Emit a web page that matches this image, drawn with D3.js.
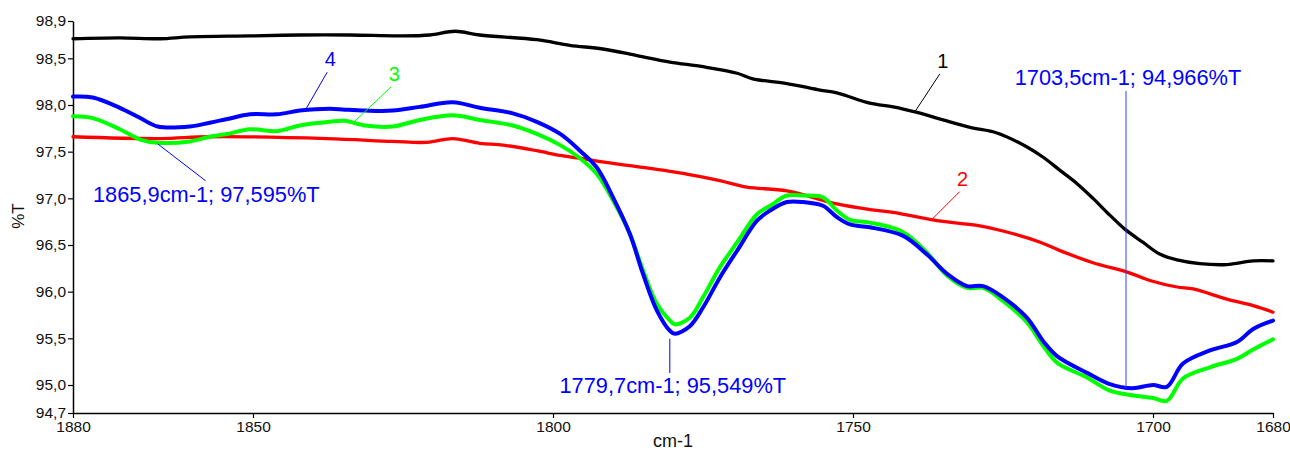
<!DOCTYPE html>
<html>
<head>
<meta charset="utf-8">
<script src="https://cdn.jsdelivr.net/npm/d3@7/dist/d3.min.js"></script>
<style>
  html, body { margin: 0; padding: 0; background: #fff; }
  svg { display: block; font-family: "Liberation Sans", Arial, sans-serif; }
</style>
</head>
<body>
<svg id="chart" width="1290" height="450"></svg>
<script>
// IR transmittance spectra, 1880–1680 cm-1

// Sample 1 (black)
const wn1 = [1880, 1872.2, 1865.5, 1860.5, 1850.5, 1842.2, 1833.8, 1825.5, 1820.5, 1816.3, 1812.2,
  1802.7, 1797.2, 1791.7, 1786, 1780.5, 1775, 1769.3, 1766.7, 1761, 1755.5, 1752.7, 1747.2,
  1743.3, 1739.3, 1735, 1730.5, 1726, 1721, 1718.3, 1715.5, 1712.7, 1710, 1707.2, 1704.7,
  1701.7, 1698.8, 1696, 1692.2, 1687.7, 1683.3, 1680];
const t1 = [98.71, 98.72, 98.71, 98.73, 98.74, 98.75, 98.75, 98.74, 98.75, 98.79, 98.75,
  98.70, 98.64, 98.60, 98.53, 98.46, 98.41, 98.34, 98.28, 98.23, 98.16, 98.13, 98.02,
  97.98, 97.92, 97.84, 97.76, 97.70, 97.55, 97.44, 97.30, 97.16, 97.00, 96.82, 96.67,
  96.53, 96.40, 96.34, 96.30, 96.29, 96.33, 96.33];

// Sample 2 (red)
const wn2 = [1880, 1865.5, 1857.2, 1837.7, 1826.7, 1821, 1816.7, 1812.2, 1808.3, 1802.7, 1798.8,
  1795.5, 1791.7, 1786, 1777.7, 1772.2, 1767.7, 1761, 1752.7, 1747.2, 1743.3, 1736, 1729.3,
  1725, 1718.8, 1715.5, 1710, 1704.3, 1700.5, 1696, 1693.3, 1687.7, 1683.3, 1680];
const t2 = [97.66, 97.64, 97.66, 97.64, 97.61, 97.60, 97.64, 97.59, 97.57, 97.51, 97.46,
  97.43, 97.39, 97.34, 97.26, 97.19, 97.12, 97.08, 96.94, 96.88, 96.85, 96.76, 96.71,
  96.65, 96.53, 96.44, 96.31, 96.21, 96.12, 96.05, 96.03, 95.92, 95.85, 95.78];

// Samples 3 (green) and 4 (blue) share one wavenumber grid
const wn34 = [1880, 1876.7, 1872.2, 1868.8, 1865.9, 1860.5, 1857.2, 1854.3, 1850.5, 1846, 1842.2,
  1837.2, 1834.7, 1831.3, 1826.7, 1822.2, 1816.7, 1812.2, 1806.7, 1802.7, 1798.8, 1795.5,
  1792.7, 1790, 1787.2, 1785, 1782.7, 1780.5, 1779.7, 1777.2, 1775, 1772.2, 1769.3, 1766,
  1763.8, 1761, 1758.3, 1755, 1752.7, 1750.5, 1747.2, 1741.7, 1737.7, 1734.3, 1731, 1728.3,
  1725, 1721, 1718.3, 1716, 1711, 1707.2, 1703.5, 1700, 1697.7, 1695, 1690.5, 1686, 1683.3, 1680];
const t3 = [97.88, 97.86, 97.74, 97.63, 97.595, 97.61, 97.66, 97.69, 97.74, 97.72, 97.78,
  97.82, 97.83, 97.78, 97.77, 97.84, 97.89, 97.84, 97.78, 97.69, 97.57, 97.43,
  97.26, 96.98, 96.62, 96.23, 95.87, 95.69, 95.65, 95.72, 95.94, 96.26, 96.53, 96.83,
  96.92, 97.03, 97.03, 97.01, 96.87, 96.77, 96.74, 96.64, 96.42, 96.17, 96.04, 96.04,
  95.90, 95.67, 95.42, 95.24, 95.08, 94.94, 94.89, 94.86, 94.83, 95.07, 95.19, 95.28, 95.38, 95.49];
const t4 = [98.09, 98.08, 97.97, 97.86, 97.77, 97.77, 97.81, 97.85, 97.90, 97.90, 97.94,
  97.96, 97.95, 97.94, 97.94, 97.98, 98.03, 97.97, 97.91, 97.82, 97.69, 97.51,
  97.33, 97.01, 96.62, 96.19, 95.80, 95.58, 95.549, 95.63, 95.83, 96.15, 96.44, 96.76,
  96.87, 96.96, 96.96, 96.92, 96.80, 96.72, 96.69, 96.60, 96.40, 96.19, 96.06, 96.06,
  95.94, 95.72, 95.47, 95.31, 95.13, 95.01, 94.966, 95.00, 94.98, 95.23, 95.37, 95.46, 95.60, 95.69];

// Axis ticks
const xTicks = [1880, 1850, 1800, 1750, 1700, 1680];
const yTicks = [94.7, 95.0, 95.5, 96.0, 96.5, 97.0, 97.5, 98.0, 98.5, 98.9];

// Curve numbers: [label, series index, wavenumber of leader end]
const curveLabels = [["1", 0, 1739.7], ["2", 1, 1736.9], ["3", 2, 1833.3], ["4", 3, 1841.3]];

// Peak readouts: [wavenumber, %T, series index]
const peaks = [[1865.9, 97.595, 2], [1779.7, 95.549, 3], [1703.5, 94.966, 3]];

const series = [
  { wn: wn1, t: t1, color: "#000000", width: 3.3 },
  { wn: wn2, t: t2, color: "#ff0000", width: 3.3 },
  { wn: wn34, t: t3, color: "#00ff00", width: 4 },
  { wn: wn34, t: t4, color: "#0000ff", width: 4 }
];

const svg = d3.select("#chart");
const x = d3.scaleLinear().domain([1880, 1680]).range([73, 1273]);
const y = d3.scaleLinear().domain([94.7, 98.9]).range([413, 21]);

const comma = v => d3.format(".1f")(v).replace(".", ",");

// Axes
const gx = svg.append("g").attr("transform", `translate(0,${y(94.7)})`)
  .call(d3.axisBottom(x).tickValues(xTicks).tickFormat(d3.format("d")).tickSize(5).tickPadding(3).tickSizeOuter(0));
const gy = svg.append("g").attr("transform", `translate(${x(1880)},0)`)
  .call(d3.axisLeft(y).tickValues(yTicks).tickFormat(comma).tickSize(5).tickPadding(2).tickSizeOuter(0));
[gx, gy].forEach(g => {
  g.selectAll("path.domain").attr("stroke", "#000").attr("stroke-width", 1.5);
  g.selectAll(".tick line").attr("stroke", "#000").attr("stroke-width", 1.2);
  g.selectAll(".tick text").attr("fill", "#111").style("font-size", "15.5px")
    .style("font-family", "'Liberation Sans', Arial, sans-serif");
});

svg.append("text").attr("x", 673).attr("y", 447).attr("text-anchor", "middle")
  .style("font-size", "18px").attr("fill", "#111").text("cm-1");
svg.append("text").attr("transform", "translate(24,216) rotate(-90)").attr("text-anchor", "middle")
  .style("font-size", "17px").attr("fill", "#111").text("%T");

// Spectra
const line = d3.line().x(d => x(d[0])).y(d => y(d[1])).curve(d3.curveCatmullRom.alpha(0.5));
series.forEach(s => {
  svg.append("path")
    .datum(d3.zip(s.wn, s.t))
    .attr("fill", "none")
    .attr("stroke", s.color)
    .attr("stroke-width", s.width)
    .attr("stroke-linejoin", "round")
    .attr("stroke-linecap", "round")
    .attr("d", line);
});

// Value of a series at a wavenumber (linear between samples)
function valueAt(s, w) {
  const pts = d3.zip(s.wn, s.t);
  for (let i = 0; i < pts.length - 1; i++) {
    const [a, va] = pts[i], [b, vb] = pts[i + 1];
    if ((w <= a && w >= b)) return va + (vb - va) * (a - w) / (a - b);
  }
  return pts[pts.length - 1][1];
}

// Curve numbers with leaders
const labelOffsets = [[25, -38], [28, -28], [38, -36], [22, -38]];
curveLabels.forEach(([txt, si, w], i) => {
  const s = series[si];
  const px = x(w), py = y(valueAt(s, w));
  const [dx, dy] = labelOffsets[i];
  svg.append("line").attr("x1", px).attr("y1", py).attr("x2", px + dx).attr("y2", py + dy)
    .attr("stroke", s.color).attr("stroke-width", 1);
  svg.append("text").attr("x", px + dx + 3).attr("y", py + dy - 6).attr("text-anchor", "middle")
    .style("font-size", "20px").attr("fill", s.color).text(txt);
});

// Peak readouts
const fmt3 = v => d3.format(".3f")(v).replace(".", ",");
const fmt1 = v => d3.format(".1f")(v).replace(".", ",");
const peakText = p => `${fmt1(p[0])}cm-1; ${fmt3(p[1])}%T`;
const blue = "#0000ff";
const peakFont = "21.8px";

// 1865.9: slanted leader down-right to text below left
{
  const p = peaks[0];
  const px = x(p[0]), py = y(p[1]);
  svg.append("line").attr("x1", px).attr("y1", py + 1).attr("x2", px + 48).attr("y2", py + 38)
    .attr("stroke", blue).attr("stroke-width", 1);
  svg.append("text").attr("x", 93).attr("y", 202).style("font-size", peakFont)
    .attr("fill", blue).text(peakText(p));
}
// 1779.7: vertical leader down to text below
{
  const p = peaks[1];
  const px = x(p[0]), py = y(p[1]);
  svg.append("line").attr("x1", px - 5).attr("y1", py + 5).attr("x2", px - 5).attr("y2", 373)
    .attr("stroke", blue).attr("stroke-width", 1);
  svg.append("text").attr("x", px - 2).attr("y", 393).attr("text-anchor", "middle")
    .style("font-size", peakFont).attr("fill", blue).text(peakText(p));
}
// 1703.5: vertical leader up to text above
{
  const p = peaks[2];
  const px = x(p[0]), py = y(p[1]);
  svg.append("line").attr("x1", px - 6).attr("y1", py).attr("x2", px - 6).attr("y2", 91)
    .attr("stroke", "#3040ff").attr("stroke-width", 1);
  svg.append("text").attr("x", px - 4).attr("y", 85).attr("text-anchor", "middle")
    .style("font-size", peakFont).attr("fill", blue).text(peakText(p));
}
</script>
</body>
</html>
